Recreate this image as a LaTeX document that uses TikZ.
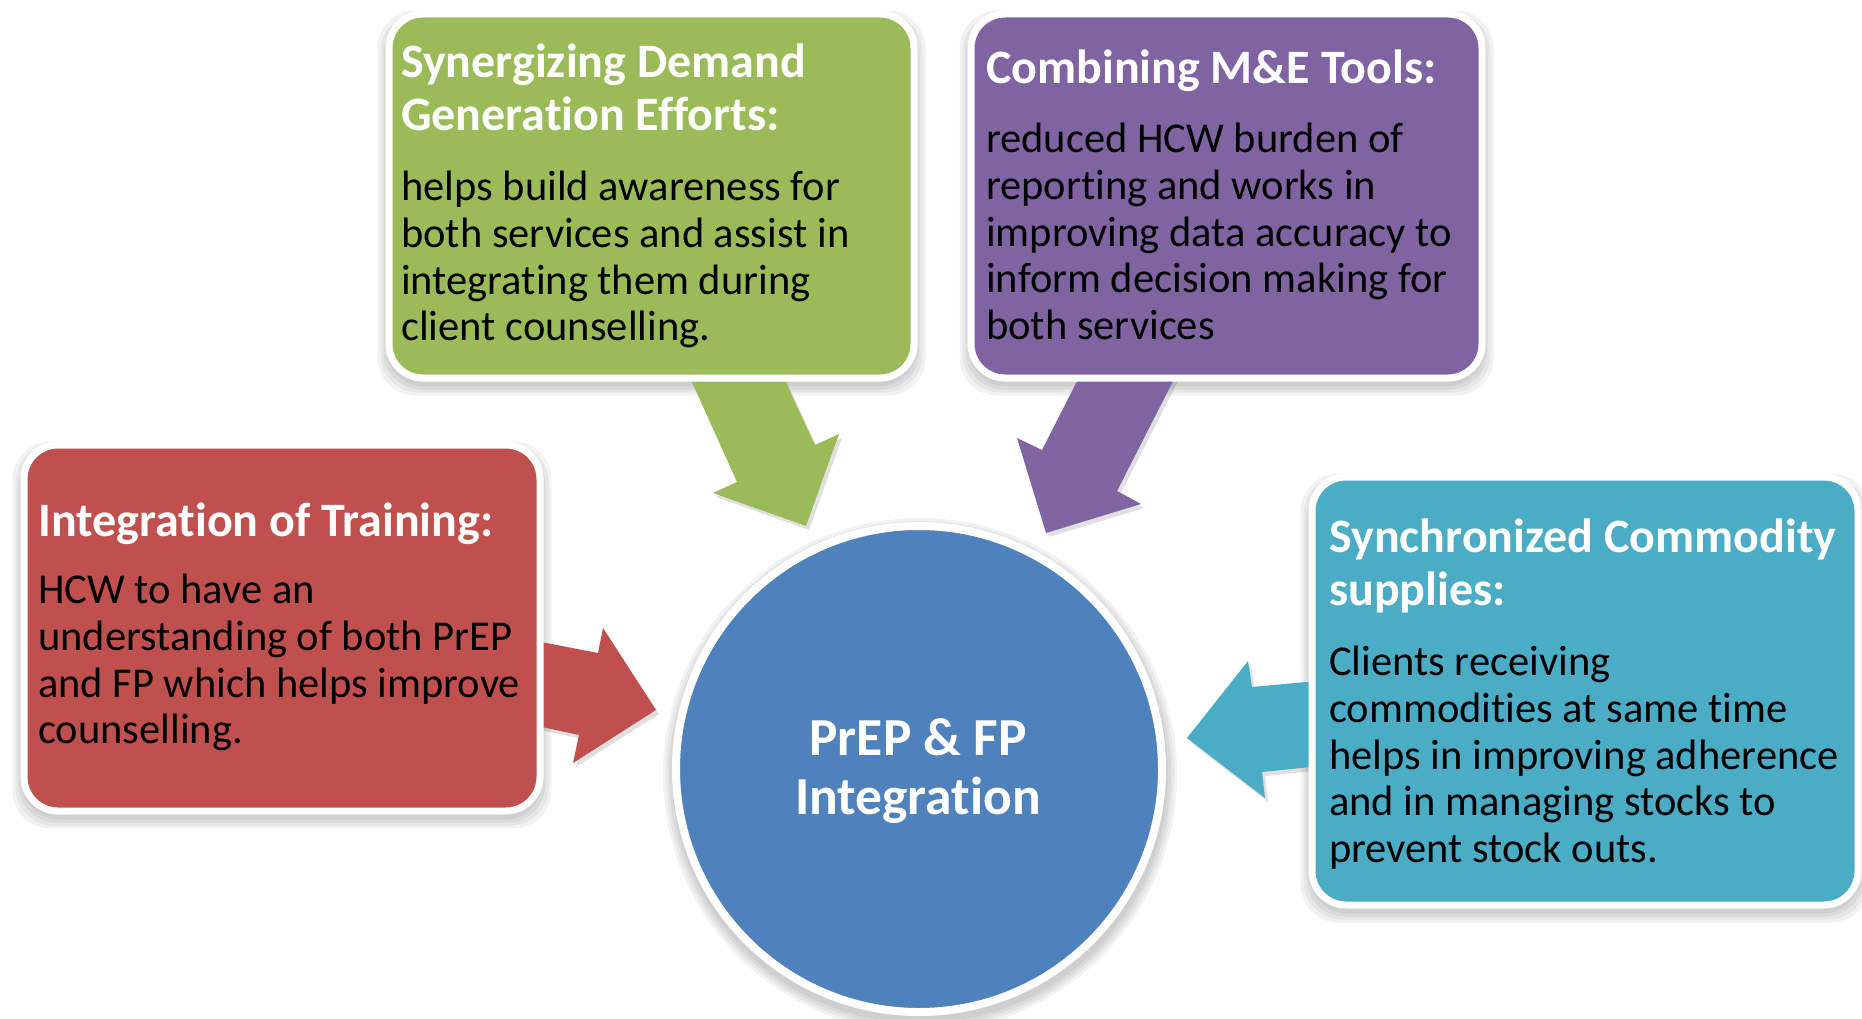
\documentclass[tikz,border=0pt]{standalone}
\usepackage{fontspec}
\setmainfont{Carlito}[Ligatures=NoCommon]
\usetikzlibrary{backgrounds,calc}
\definecolor{cgreen}{HTML}{9BBB59}
\definecolor{cpurple}{HTML}{8064A2}
\definecolor{cred}{HTML}{C0504D}
\definecolor{cteal}{HTML}{4BACC6}
\definecolor{cblue}{HTML}{4F81BD}
\tikzset{
  box/.style={draw=white, line width=7pt, rounded corners=34pt, inner sep=0pt, rectangle},
  ttl/.style={font=\fontsize{48}{53}\selectfont\bfseries, text=white, align=left, inner sep=0pt, anchor=north west},
  bodytext/.style={font=\fontsize{42.5}{46.7}\selectfont, text=black, align=left, inner sep=0pt, anchor=north west},
  shd/.style={fill=black, opacity=0.05},
  arrowshd/.style={fill=black, opacity=0.12}
}
\begin{document}
\begin{tikzpicture}[x=1pt,y=-1pt]
\useasboundingbox (0,0) rectangle (1862,1019);

% boxes
\node[box, fill=cgreen, minimum width=525pt, minimum height=364pt] (g) at (651.5,196) {};
\node[box, fill=cpurple, minimum width=511pt, minimum height=364pt] (p) at (1226.5,196) {};
\node[box, fill=cred, minimum width=516pt, minimum height=366pt] (r) at (282,628) {};
\node[box, fill=cteal, minimum width=546pt, minimum height=428pt] (t) at (1585,691) {};
\node[circle, draw=white, line width=8pt, fill=cblue, minimum size=486pt, inner sep=0pt] (c) at (919,769) {};

\begin{pgfonlayer}{background}
  % soft shadows of boxes
  \foreach \n in {g,p,r,t}{
    \foreach \e in {1,4,7,10}{
      \fill[shd, rounded corners=38pt] ($(\n.north west)+(-\e+2,-\e+10)$) rectangle ($(\n.south east)+(\e-2,\e+4)$);
    }
  }
  \foreach \e in {1,4,7,10}{
    \fill[shd] ($(c.center)+(1,6)$) circle[radius=247+\e];
  }
  % arrow shadows
  \fill[arrowshd] (676,344) -- (740,486) -- (716,497) -- (809,530) -- (842,438) -- (818,449) -- (769,344) -- cycle;
  \fill[arrowshd] (1101,344) -- (1045,454) -- (1020,442) -- (1049,537) -- (1144,508) -- (1120,495) -- (1197,344) -- cycle;
  \fill[arrowshd] (503,638) -- (601,657) -- (606,632) -- (659,714) -- (576,767) -- (582,739) -- (503,722) -- cycle;
  \fill[arrowshd] (1353,682) -- (1255,691) -- (1251,665) -- (1190,742) -- (1268,802) -- (1265,776) -- (1353,767) -- cycle;
  % block arrows
  \fill[cgreen] (673,340) -- (737,482) -- (713,493) -- (806,526) -- (839,434) -- (815,445) -- (766,340) -- cycle;
  \fill[cpurple] (1098,340) -- (1042,450) -- (1017,438) -- (1046,533) -- (1141,504) -- (1117,491) -- (1194,340) -- cycle;
  \fill[cred] (500,634) -- (598,653) -- (603,628) -- (656,710) -- (573,763) -- (579,735) -- (500,718) -- cycle;
  \fill[cteal] (1350,678) -- (1252,687) -- (1248,661) -- (1187,738) -- (1265,798) -- (1262,772) -- (1350,763) -- cycle;
\end{pgfonlayer}

% texts
\node[ttl] (gt) at (401,44) {Synergizing Demand\\Generation Efforts:};
\node[bodytext] (gb) at (401,171) {helps build awareness for\\both services and assist in\\integrating them during\\client counselling.};

\node[ttl] (pt) at (986,50) {Combining M\&E Tools:};
\node[bodytext] (pb) at (986,123) {reduced HCW burden of\\reporting and works in\\improving data accuracy to\\inform decision making for\\both services};

\node[ttl] (rt) at (38,503) {Integration of Training:};
\node[bodytext] (rb) at (38,574) {HCW to have an\\understanding of both PrEP\\and FP which helps improve\\counselling.};

\node[ttl] (tt) at (1329,519) {Synchronized Commodity\\supplies:};
\node[bodytext] (tb) at (1329,646) {Clients receiving\\commodities at same time\\helps in improving adherence\\and in managing stocks to\\prevent stock outs.};

\node[font=\fontsize{53.5}{59}\selectfont\bfseries, text=white, align=center, inner sep=0pt] (ct) at (918,771) {PrEP \& FP\\Integration};
\end{tikzpicture}
\end{document}
